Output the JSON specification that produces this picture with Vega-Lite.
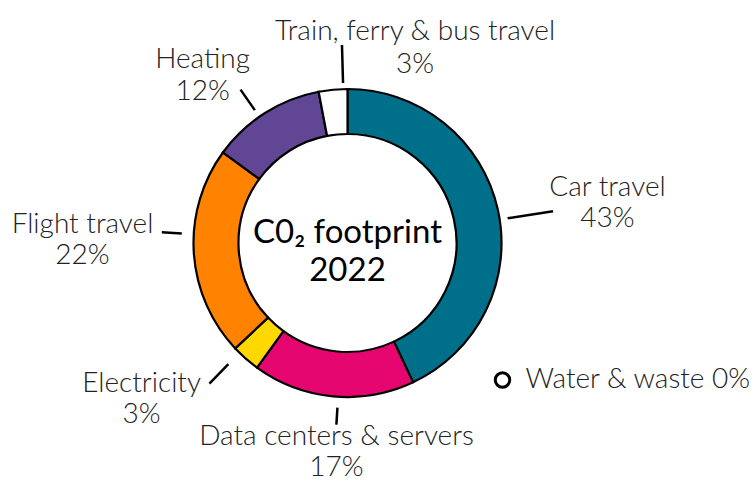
{
  "$schema": "https://vega.github.io/schema/vega-lite/v6.json",
  "width": 695,
  "height": 478,
  "autosize": {"type": "none"},
  "padding": {"left": 0, "top": 4, "right": 60, "bottom": 0},
  "background": "white",
  "config": {
    "view": {"stroke": null},
    "font": "Lato",
    "text": {"font": "Lato", "fontWeight": 300, "fontSize": 28, "fill": "#222222", "align": "center", "baseline": "alphabetic", "lineBreak": "\n", "lineHeight": 31}
  },
  "data": {
    "values": [
      {"category": "Car travel", "value": 43, "label": "Car travel\n43%"},
      {"category": "Data centers & servers", "value": 17, "label": "Data centers & servers\n17%"},
      {"category": "Electricity", "value": 3, "label": "Electricity\n3%"},
      {"category": "Flight travel", "value": 22, "label": "Flight travel\n22%"},
      {"category": "Heating", "value": 12, "label": "Heating\n12%"},
      {"category": "Train, ferry & bus travel", "value": 3, "label": "Train, ferry & bus travel\n3%"},
      {"category": "Water & waste", "value": 0, "label": "Water & waste\n0%"}
    ]
  },
  "layer": [
    {
      "transform": [{"stack": "value", "groupby": [], "sort": [{"field": "category", "order": "ascending"}], "as": ["v0", "v1"]}],
      "layer": [
        {
          "transform": [{"filter": "datum.value > 0"}],
          "mark": {"type": "arc", "outerRadius": 154, "innerRadius": 109, "stroke": "black", "strokeWidth": 2.2},
          "encoding": {
            "theta": {"field": "v0", "type": "quantitative", "stack": null, "scale": {"domain": [0, 100]}},
            "theta2": {"field": "v1"},
            "color": {
              "field": "category", "type": "nominal",
              "scale": {
                "domain": ["Car travel", "Data centers & servers", "Electricity", "Flight travel", "Heating", "Train, ferry & bus travel", "Water & waste"],
                "range": ["#00708A", "#E6066F", "#FFD800", "#FF8200", "#604695", "#FFFFFF", "#FFFFFF"]
              },
              "legend": {
                "values": ["Water & waste"], "orient": "none", "legendX": 488.5, "legendY": 362, "title": null, "padding": 0,
                "symbolType": "circle", "symbolSize": 210, "symbolStrokeWidth": 3, "symbolStrokeColor": "black", "symbolFillColor": "white",
                "labelFont": "Lato", "labelFontWeight": 300, "labelFontSize": 28, "labelColor": "#222222", "labelLimit": 400, "labelOffset": 9,
                "labelExpr": "datum.label + ' 0%'"
              }
            }
          }
        },
        {
          "transform": [{"filter": {"field": "category", "equal": "Car travel"}}],
          "mark": {"type": "arc", "innerRadius": 162, "outerRadius": 208, "thetaOffset": 1.4172, "theta2Offset": 1.4172, "stroke": "black", "strokeWidth": 2.5, "fill": null},
          "encoding": {"theta": {"field": "v0", "type": "quantitative", "stack": null}, "theta2": {"field": "v0"}}
        },
        {
          "transform": [{"filter": {"field": "category", "equal": "Data centers & servers"}}],
          "mark": {"type": "arc", "innerRadius": 165, "outerRadius": 182, "thetaOffset": 0.5009, "theta2Offset": 0.5009, "stroke": "black", "strokeWidth": 2.5, "fill": null},
          "encoding": {"theta": {"field": "v0", "type": "quantitative", "stack": null}, "theta2": {"field": "v0"}}
        },
        {
          "transform": [{"filter": {"field": "category", "equal": "Electricity"}}],
          "mark": {"type": "arc", "innerRadius": 170, "outerRadius": 197, "thetaOffset": 0.1484, "theta2Offset": 0.1484, "stroke": "black", "strokeWidth": 2.5, "fill": null},
          "encoding": {"theta": {"field": "v0", "type": "quantitative", "stack": null}, "theta2": {"field": "v0"}}
        },
        {
          "transform": [{"filter": {"field": "category", "equal": "Flight travel"}}],
          "mark": {"type": "arc", "innerRadius": 166, "outerRadius": 186, "thetaOffset": 0.8116, "theta2Offset": 0.8116, "stroke": "black", "strokeWidth": 2.5, "fill": null},
          "encoding": {"theta": {"field": "v0", "type": "quantitative", "stack": null}, "theta2": {"field": "v0"}}
        },
        {
          "transform": [{"filter": {"field": "category", "equal": "Heating"}}],
          "mark": {"type": "arc", "innerRadius": 162, "outerRadius": 187, "thetaOffset": 0.3334, "theta2Offset": 0.3334, "stroke": "black", "strokeWidth": 2.5, "fill": null},
          "encoding": {"theta": {"field": "v0", "type": "quantitative", "stack": null}, "theta2": {"field": "v0"}}
        },
        {
          "transform": [{"filter": {"field": "category", "equal": "Train, ferry & bus travel"}}],
          "mark": {"type": "arc", "innerRadius": 160, "outerRadius": 198, "thetaOffset": 0.1606, "theta2Offset": 0.1606, "stroke": "black", "strokeWidth": 2.5, "fill": null},
          "encoding": {"theta": {"field": "v0", "type": "quantitative", "stack": null}, "theta2": {"field": "v0"}}
        },
        {
          "transform": [{"filter": {"field": "category", "equal": "Car travel"}}],
          "mark": {"type": "text", "radius": 264.2, "thetaOffset": 1.3919},
          "encoding": {"theta": {"field": "v0", "type": "quantitative", "stack": null}, "text": {"field": "label"}}
        },
        {
          "transform": [{"filter": {"field": "category", "equal": "Data centers & servers"}}],
          "mark": {"type": "text", "radius": 202.3, "thetaOffset": 0.4943},
          "encoding": {"theta": {"field": "v0", "type": "quantitative", "stack": null}, "text": {"field": "label"}}
        },
        {
          "transform": [{"filter": {"field": "category", "equal": "Electricity"}}],
          "mark": {"type": "text", "radius": 254.2, "thetaOffset": 0.3159},
          "encoding": {"theta": {"field": "v0", "type": "quantitative", "stack": null}, "text": {"field": "label"}}
        },
        {
          "transform": [{"filter": {"field": "category", "equal": "Flight travel"}}],
          "mark": {"type": "text", "radius": 265.2, "thetaOffset": 0.7917},
          "encoding": {"theta": {"field": "v0", "type": "quantitative", "stack": null}, "text": {"field": "label"}}
        },
        {
          "transform": [{"filter": {"field": "category", "equal": "Heating"}}],
          "mark": {"type": "text", "radius": 227.3, "thetaOffset": 0.2513, "lineHeight": 32},
          "encoding": {"theta": {"field": "v0", "type": "quantitative", "stack": null}, "text": {"field": "label"}}
        },
        {
          "transform": [{"filter": {"field": "category", "equal": "Train, ferry & bus travel"}}],
          "mark": {"type": "text", "radius": 213.9, "thetaOffset": 0.5096, "lineHeight": 33},
          "encoding": {"theta": {"field": "v0", "type": "quantitative", "stack": null}, "text": {"field": "label"}}
        }
      ]
    },
    {
      "data": {"values": [{"title": "C0₂ footprint\n2022"}]},
      "mark": {"type": "text", "fontSize": 33, "fontWeight": 400, "fill": "black", "lineHeight": 38, "baseline": "alphabetic", "align": "center"},
      "encoding": {"text": {"field": "title"}}
    }
  ]
}
